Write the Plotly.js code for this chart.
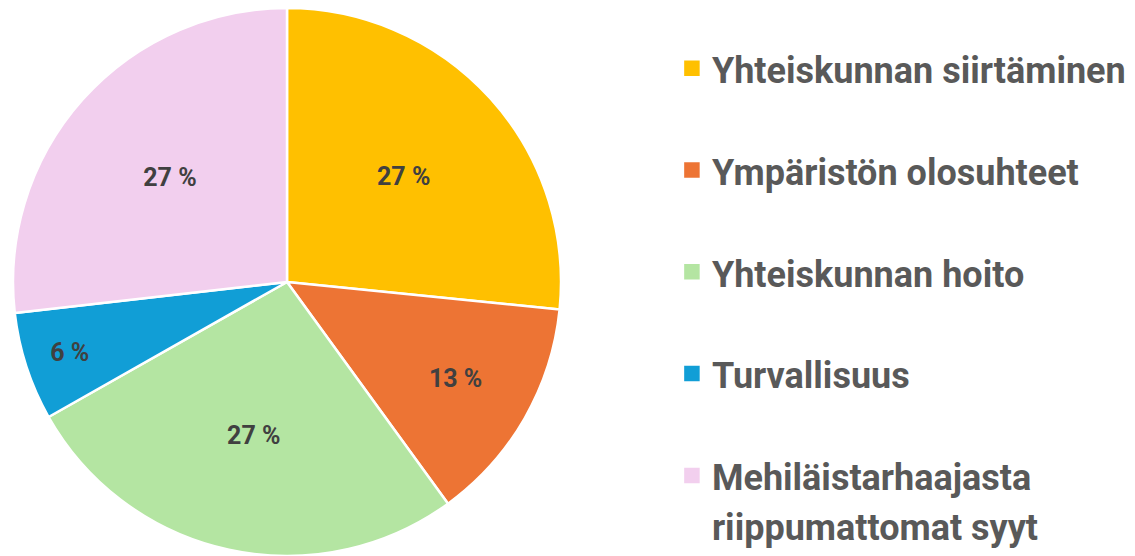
<!DOCTYPE html>
<html>
<head>
<meta charset="utf-8">
<script src="https://cdn.plot.ly/plotly-3.0.1.min.js"></script>
<style>
html,body{margin:0;padding:0;background:#fff;}
#chart{width:1135px;height:556px;}
</style>
</head>
<body>
<div id="chart"></div>
<script>
var categories = [
  "Yhteiskunnan siirtäminen",
  "Ympäristön olosuhteet",
  "Yhteiskunnan hoito",
  "Turvallisuus",
  "Mehiläistarhaajasta<br>riippumattomat syyt"
];
var shares = [26.6, 13.4, 26.8, 6.4, 26.8];
var colors = ["#FFC000", "#ED7434", "#B4E5A2", "#119ED6", "#F2CFEE"];

var total = shares.reduce(function(a, b){ return a + b; }, 0);
var pctText = shares.map(function(v){ return Math.round(v / total * 100) + " %"; });
var legendLabels = categories.map(function(c, i){
  var lines = c.split("<br>").map(function(l){ return '<span style="font-size:36px">' + l + '</span>'; });
  if (lines.length === 1) lines.push(" ");
  return lines.join("<br>");
});

var trace = {
  type: "pie",
  labels: legendLabels,
  values: shares,
  text: pctText,
  textinfo: "text",
  textposition: "inside",
  insidetextorientation: "horizontal",
  sort: false,
  direction: "clockwise",
  rotation: 0,
  marker: { colors: colors, line: { color: "#ffffff", width: 2.5 } },
  textfont: { family: "Roboto, sans-serif", size: 25, color: "#404040", weight: 700 },
  hoverinfo: "label+percent",
  domain: { x: [13/1135, 561/1135], y: [0, 548/556] }
};

var layout = {
  width: 1135,
  height: 556,
  margin: { l: 0, r: 0, t: 0, b: 0 },
  paper_bgcolor: "#ffffff",
  showlegend: true,
  legend: {
    x: 0.592,
    xanchor: "left",
    y: 0,
    yanchor: "bottom",
    valign: "top",
    font: { family: "Roboto, sans-serif", size: 38, color: "#595959", weight: 700 },
    bgcolor: "rgba(0,0,0,0)"
  }
};

Plotly.newPlot("chart", [trace], layout, { displayModeBar: false, staticPlot: true }).then(function(gd){
  var pts = gd.querySelectorAll(".legend .legendpoints path");
  pts.forEach(function(p){ p.setAttribute("d", "M9,9H-9V-9H9Z"); });
});
</script>
</body>
</html>
